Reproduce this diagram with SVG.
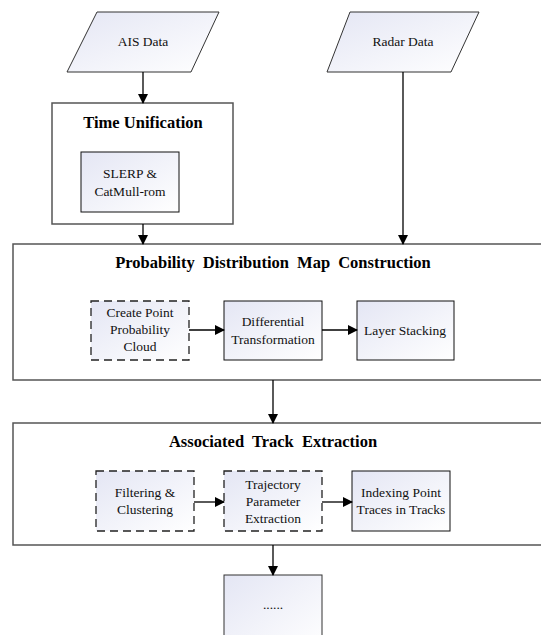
<svg xmlns="http://www.w3.org/2000/svg" width="541" height="635" viewBox="0 0 541 635">
<defs>
<linearGradient id="g" x1="0" y1="0" x2="1" y2="1">
<stop offset="0" stop-color="#e4e6f4"/>
<stop offset="1" stop-color="#ffffff"/>
</linearGradient>
<marker id="ah" markerWidth="10" markerHeight="10" refX="9" refY="5" orient="auto" markerUnits="userSpaceOnUse">
<path d="M0,0 L10,5 L0,10 Z" fill="#000"/>
</marker>
<style>
.t{font-family:"Liberation Serif","DejaVu Serif",serif;font-size:13.5px;fill:#111;text-anchor:middle}
.h{font-family:"Liberation Serif","DejaVu Serif",serif;font-size:16.5px;font-weight:bold;fill:#000;text-anchor:middle}
.ws{word-spacing:4px}
.outer{fill:#fff;stroke:#555;stroke-width:1.5}
.inner{fill:url(#g);stroke:#111;stroke-width:1}
.dash{fill:url(#g);stroke:#222;stroke-width:1.3;stroke-dasharray:8,5}
.io{fill:url(#g);stroke:#333;stroke-width:1}
.c{stroke:#000;stroke-width:1.3;fill:none;marker-end:url(#ah)}
</style>
</defs>
<rect width="541" height="635" fill="#fff"/>
<g id="ais">
<polygon class="io" points="97,12 219,12 191,72 67,72"/>
<text class="t" x="143" y="46">AIS Data</text>
</g>
<g id="radar">
<polygon class="io" points="350,12 479,12 451,72 327,72"/>
<text class="t" x="403" y="46">Radar Data</text>
</g>
<g id="time">
<rect class="outer" x="52" y="103" width="181" height="121"/>
<text class="h" x="143" y="128">Time Unification</text>
</g>
<g id="slerp">
<rect class="inner" x="81" y="152" width="98" height="60"/>
<text class="t" x="130" y="178">SLERP &amp;</text>
<text class="t" x="130" y="196">CatMull-rom</text>
</g>
<g id="pdm">
<rect class="outer" x="13" y="244" width="535" height="136"/>
<text class="h ws" x="273" y="268">Probability Distribution Map Construction</text>
</g>
<g id="cloud">
<rect class="dash" x="91" y="301" width="98" height="59"/>
<text class="t" x="140" y="317">Create Point</text>
<text class="t" x="140" y="334">Probability</text>
<text class="t" x="140" y="351">Cloud</text>
</g>
<g id="diff">
<rect class="inner" x="224" y="301" width="98" height="59"/>
<text class="t" x="273" y="326">Differential</text>
<text class="t" x="273" y="344">Transformation</text>
</g>
<g id="layer">
<rect class="inner" x="357" y="301" width="97" height="59"/>
<text class="t" x="405" y="335">Layer Stacking</text>
</g>
<g id="ate">
<rect class="outer" x="13" y="423" width="535" height="122"/>
<text class="h ws" x="273" y="447">Associated Track Extraction</text>
</g>
<g id="filter">
<rect class="dash" x="96" y="471" width="98" height="60"/>
<text class="t" x="145" y="497">Filtering &amp;</text>
<text class="t" x="145" y="514">Clustering</text>
</g>
<g id="traj">
<rect class="dash" x="224" y="471" width="98" height="60"/>
<text class="t" x="273" y="489">Trajectory</text>
<text class="t" x="273" y="506">Parameter</text>
<text class="t" x="273" y="523">Extraction</text>
</g>
<g id="index">
<rect class="inner" x="352" y="471" width="98" height="60"/>
<text class="t" x="401" y="497">Indexing Point</text>
<text class="t" x="401" y="514">Traces in Tracks</text>
</g>
<g id="more">
<rect class="io" x="224" y="575" width="98" height="75" stroke="#555" stroke-width="1.5"/>
<text class="t" x="273" y="609">......</text>
</g>
<g id="connectors">
<line class="c" x1="143" y1="72" x2="143" y2="103"/>
<line class="c" x1="143" y1="224" x2="143" y2="244"/>
<line class="c" x1="403" y1="72" x2="403" y2="244"/>
<line class="c" x1="189" y1="330" x2="224" y2="330"/>
<line class="c" x1="322" y1="330" x2="357" y2="330"/>
<line class="c" x1="273" y1="380" x2="273" y2="423"/>
<line class="c" x1="194" y1="502" x2="224" y2="502"/>
<line class="c" x1="322" y1="502" x2="352" y2="502"/>
<line class="c" x1="273" y1="545" x2="273" y2="575"/>
</g>
</svg>
